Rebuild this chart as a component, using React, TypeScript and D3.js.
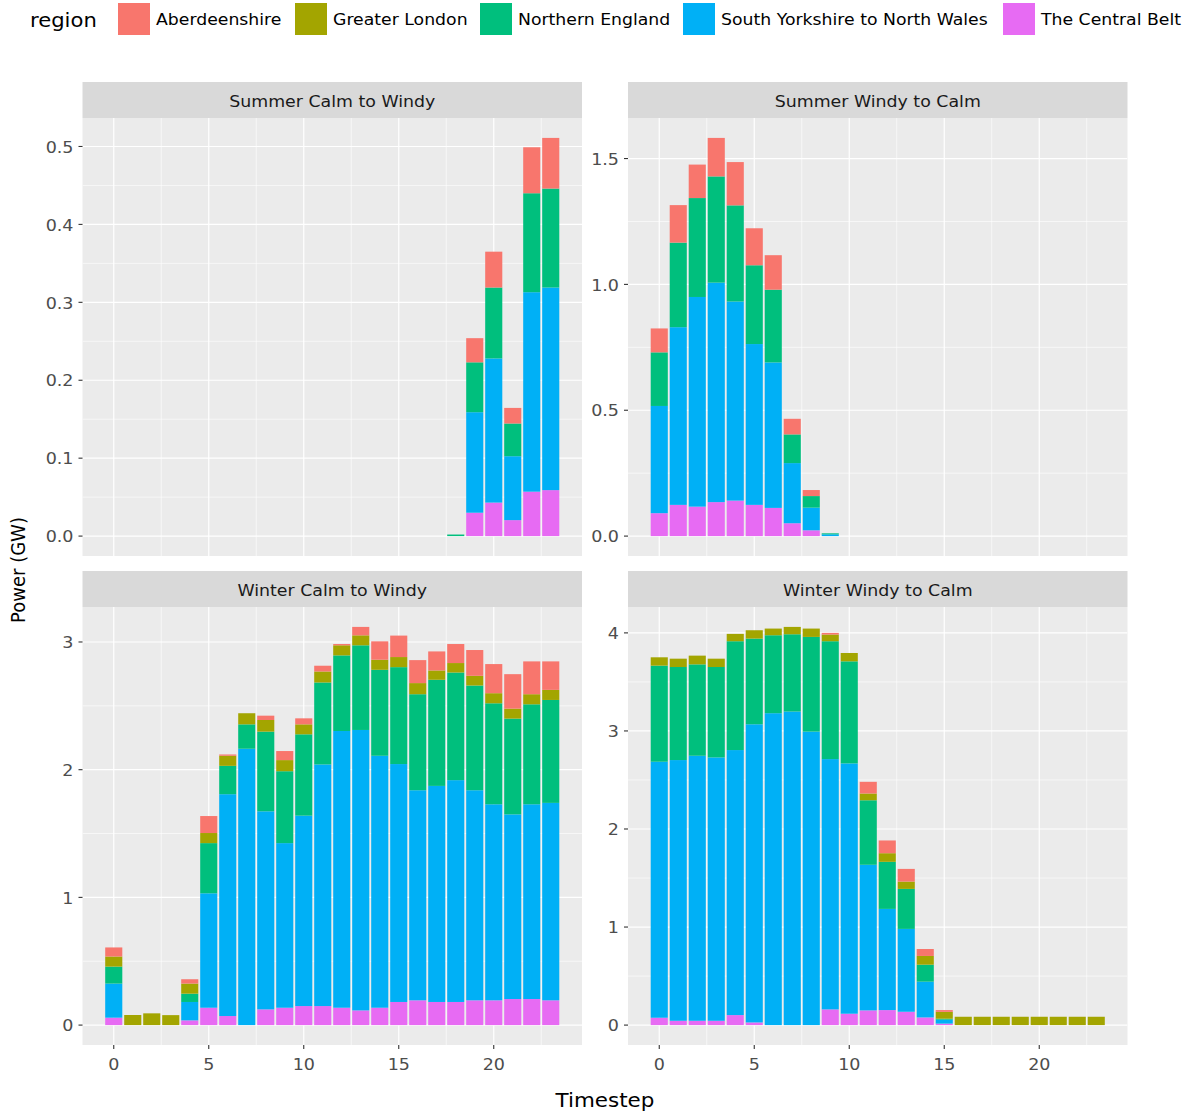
import React from "react";
import * as d3 from "d3";

const regions = [
  "Aberdeenshire",
  "Greater London",
  "Northern England",
  "South Yorkshire to North Wales",
  "The Central Belt",
];
const regionColors = ["#F8766D", "#A3A500", "#00BF7D", "#00B0F6", "#E76BF3"];
const timesteps = d3.range(0, 24);
const xTicks = [0, 5, 10, 15, 20];
const panelTitles = [
  "Summer Calm to Windy",
  "Summer Windy to Calm",
  "Winter Calm to Windy",
  "Winter Windy to Calm",
];
const yTickLists = [
  [0, 0.1, 0.2, 0.3, 0.4, 0.5],
  [0, 0.5, 1.0, 1.5],
  [0, 1, 2, 3],
  [0, 1, 2, 3, 4],
];
const yTickFormats = [".1f", ".1f", "d", "d"];

// Summer Calm to Windy
const scwAberdeenshire = [0,0,0,0,0,0,0,0,0,0,0,0,0,0,0,0,0,0,0,0.031,0.046,0.020,0.059,0.065];
const scwGreaterLondon = [0,0,0,0,0,0,0,0,0,0,0,0,0,0,0,0,0,0,0,0,0,0,0,0];
const scwNorthernEngland = [0,0,0,0,0,0,0,0,0,0,0,0,0,0,0,0,0,0,0.002,0.064,0.091,0.042,0.127,0.127];
const scwSouthYorkshire = [0,0,0,0,0,0,0,0,0,0,0,0,0,0,0,0,0,0,0,0.129,0.185,0.082,0.256,0.260];
const scwCentralBelt = [0,0,0,0,0,0,0,0,0,0,0,0,0,0,0,0,0,0,0,0.030,0.043,0.0205,0.057,0.059];

// Summer Windy to Calm
const swcAberdeenshire = [0.095,0.149,0.133,0.153,0.172,0.147,0.137,0.062,0.024,0,0,0,0,0,0,0,0,0,0,0,0,0,0,0];
const swcGreaterLondon = [0,0,0,0,0,0,0,0,0,0,0,0,0,0,0,0,0,0,0,0,0,0,0,0];
const swcNorthernEngland = [0.213,0.336,0.393,0.422,0.382,0.313,0.289,0.114,0.046,0.004,0,0,0,0,0,0,0,0,0,0,0,0,0,0];
const swcSouthYorkshire = [0.426,0.706,0.833,0.872,0.791,0.639,0.578,0.239,0.090,0.007,0,0,0,0,0,0,0,0,0,0,0,0,0,0];
const swcCentralBelt = [0.091,0.124,0.117,0.135,0.141,0.124,0.112,0.051,0.023,0,0,0,0,0,0,0,0,0,0,0,0,0,0,0];

// Winter Calm to Windy
const wcwAberdeenshire = [0.071,0,0,0,0.034,0.133,0.010,0,0.034,0.071,0.047,0.045,0.010,0.066,0.144,0.168,0.180,0.149,0.149,0.202,0.228,0.270,0.257,0.223];
const wcwGreaterLondon = [0.079,0.079,0.092,0.078,0.079,0.079,0.079,0.087,0.091,0.087,0.078,0.086,0.079,0.078,0.079,0.079,0.087,0.073,0.074,0.076,0.079,0.078,0.079,0.079];
const wcwNorthernEngland = [0.133,0,0,0,0.065,0.393,0.222,0.191,0.624,0.563,0.637,0.642,0.592,0.663,0.673,0.759,0.752,0.831,0.843,0.820,0.791,0.750,0.783,0.806];
const wcwSouthYorkshire = [0.267,0,0,0,0.144,0.896,1.737,2.164,1.551,1.289,1.491,1.892,2.167,2.196,1.973,1.863,1.645,1.692,1.737,1.645,1.535,1.446,1.525,1.546];
const wcwCentralBelt = [0.058,0,0,0,0.037,0.136,0.071,0,0.123,0.136,0.149,0.149,0.136,0.115,0.136,0.181,0.194,0.181,0.181,0.194,0.194,0.204,0.204,0.194];

// Winter Windy to Calm
const wwcAberdeenshire = [0,0,0,0,0,0,0,0,0,0.017,0,0.119,0.130,0.129,0.071,0.018,0,0,0,0,0,0,0,0];
const wwcGreaterLondon = [0.085,0.085,0.089,0.085,0.075,0.085,0.068,0.075,0.085,0.068,0.085,0.069,0.088,0.075,0.089,0.070,0.085,0.085,0.085,0.085,0.085,0.085,0.085,0.085];
const wwcNorthernEngland = [0.980,0.949,0.932,0.922,1.110,0.874,0.795,0.788,0.966,1.202,1.041,0.658,0.480,0.408,0.173,0.010,0,0,0,0,0,0,0,0];
const wwcSouthYorkshire = [2.611,2.659,2.703,2.686,2.703,3.041,3.181,3.198,2.993,2.553,2.553,1.485,1.032,0.845,0.365,0.040,0,0,0,0,0,0,0,0];
const wwcCentralBelt = [0.075,0.044,0.044,0.044,0.102,0.027,0,0,0,0.160,0.116,0.150,0.153,0.136,0.078,0.015,0,0,0,0,0,0,0,0];

const panelSeries = [
  [scwAberdeenshire, scwGreaterLondon, scwNorthernEngland, scwSouthYorkshire, scwCentralBelt],
  [swcAberdeenshire, swcGreaterLondon, swcNorthernEngland, swcSouthYorkshire, swcCentralBelt],
  [wcwAberdeenshire, wcwGreaterLondon, wcwNorthernEngland, wcwSouthYorkshire, wcwCentralBelt],
  [wwcAberdeenshire, wwcGreaterLondon, wwcNorthernEngland, wwcSouthYorkshire, wwcCentralBelt],
];

const FONT = "'DejaVu Sans', sans-serif";
const W = 1187;
const H = 1117;
const panelW = 499.5;
const panelH = 438;
const stripH = 36;
const colX = [82.5, 628];
const rowTop = [82, 571]; // strip top
const SX = 1.1; // horizontal stretch of the source image's text

function T({
  x,
  y,
  size,
  anchor = "start",
  fill = "#000",
  children,
}: {
  x: number;
  y: number;
  size: number;
  anchor?: string;
  fill?: string;
  children: any;
}) {
  return (
    <text
      transform={`translate(${x},${y}) scale(${SX},1)`}
      textAnchor={anchor}
      dominantBaseline="central"
      fontFamily={FONT}
      fontSize={size}
      fill={fill}
    >
      {children}
    </text>
  );
}

function Panel({ idx }: { idx: number }) {
  const col = idx % 2;
  const row = Math.floor(idx / 2);
  const x0 = colX[col];
  const stripTop = rowTop[row];
  const y0 = stripTop + stripH;
  const series = panelSeries[idx];

  const rows = timesteps.map((t, i) => {
    const o: any = { t };
    regions.forEach((r, k) => (o[r] = series[k][i]));
    return o;
  });
  const stackKeys = regions.slice().reverse();
  const stacked = d3.stack().keys(stackKeys)(rows);
  const maxY = d3.max(rows, (r: any) => d3.sum(regions, (k) => r[k])) as number;

  const barW = 0.9;
  const xMin = -barW / 2;
  const xMax = 23 + barW / 2;
  const xPad = (xMax - xMin) * 0.05;
  const x = d3.scaleLinear().domain([xMin - xPad, xMax + xPad]).range([x0, x0 + panelW]);
  const y = d3.scaleLinear().domain([-maxY * 0.05, maxY * 1.05]).range([y0 + panelH, y0]);

  const yTicks = yTickLists[idx];
  const fmt = d3.format(yTickFormats[idx]);
  const yMinor = yTicks.slice(0, -1).map((v, i) => (v + yTicks[i + 1]) / 2);
  const lastStep = yTicks[1] - yTicks[0];
  const extraMinor = yTicks[yTicks.length - 1] + lastStep / 2;
  if (extraMinor < y.domain()[1]) yMinor.push(extraMinor);
  const xMinor = [2.5, 7.5, 12.5, 17.5, 22.5];
  const clipId = `clip${idx}`;

  return (
    <g>
      <defs>
        <clipPath id={clipId}>
          <rect x={x0} y={y0} width={panelW} height={panelH} />
        </clipPath>
      </defs>
      <rect x={x0} y={stripTop} width={panelW} height={stripH} fill="#D9D9D9" />
      <T x={x0 + panelW / 2} y={stripTop + stripH / 2 + 1.5} size={15.8} anchor="middle" fill="#1A1A1A">
        {panelTitles[idx]}
      </T>
      <rect x={x0} y={y0} width={panelW} height={panelH} fill="#EBEBEB" />
      <g clipPath={`url(#${clipId})`}>
        {yMinor.map((v) => (
          <line key={"ym" + v} x1={x0} x2={x0 + panelW} y1={y(v)} y2={y(v)} stroke="#fff" strokeWidth={0.6} />
        ))}
        {xMinor.map((v) => (
          <line key={"xm" + v} x1={x(v)} x2={x(v)} y1={y0} y2={y0 + panelH} stroke="#fff" strokeWidth={0.6} />
        ))}
        {yTicks.map((v) => (
          <line key={"y" + v} x1={x0} x2={x0 + panelW} y1={y(v)} y2={y(v)} stroke="#fff" strokeWidth={1.2} />
        ))}
        {xTicks.map((v) => (
          <line key={"x" + v} x1={x(v)} x2={x(v)} y1={y0} y2={y0 + panelH} stroke="#fff" strokeWidth={1.2} />
        ))}
        {stacked.map((layer: any) => {
          const color = regionColors[regions.indexOf(layer.key)];
          return (
            <g key={layer.key} fill={color}>
              {layer.map((d: any, i: number) => {
                const h = y(d[0]) - y(d[1]);
                if (h <= 0) return null;
                return (
                  <rect
                    key={i}
                    x={x(d.data.t - barW / 2)}
                    width={x(barW) - x(0)}
                    y={y(d[1])}
                    height={h}
                  />
                );
              })}
            </g>
          );
        })}
      </g>
      {yTicks.map((v) => (
        <g key={"yt" + v}>
          <line x1={x0 - 4} x2={x0} y1={y(v)} y2={y(v)} stroke="#333" strokeWidth={1.1} />
          <T x={x0 - 9} y={y(v) + 0.5} size={15.9} anchor="end" fill="#4D4D4D">
            {fmt(v)}
          </T>
        </g>
      ))}
      {row === 1 &&
        xTicks.map((v) => (
          <g key={"xt" + v}>
            <line x1={x(v)} x2={x(v)} y1={y0 + panelH} y2={y0 + panelH + 4} stroke="#333" strokeWidth={1.1} />
            <T x={x(v)} y={y0 + panelH + 19} size={15.9} anchor="middle" fill="#4D4D4D">
              {v}
            </T>
          </g>
        ))}
    </g>
  );
}

function Legend() {
  const keyX = [118, 295, 480, 683, 1003];
  return (
    <g>
      <T x={30} y={20} size={19.2}>
        region
      </T>
      {regions.map((r, i) => (
        <g key={r}>
          <rect x={keyX[i]} y={3} width={32} height={32} fill={regionColors[i]} />
          <T x={keyX[i] + 38} y={20} size={15.7}>
            {r}
          </T>
        </g>
      ))}
    </g>
  );
}

export default function App() {
  return (
    <svg
      width={W}
      height={H}
      viewBox={`0 0 ${W} ${H}`}
      style={{ position: "absolute", left: 0, top: 0, background: "#fff" }}
    >
      <rect width={W} height={H} fill="#fff" />
      <Legend />
      {[0, 1, 2, 3].map((i) => (
        <Panel key={i} idx={i} />
      ))}
      <T x={605} y={1100} size={19.5} anchor="middle">
        Timestep
      </T>
      <text
        transform={`translate(18,570) scale(${SX},1) rotate(-90)`}
        textAnchor="middle"
        dominantBaseline="central"
        fontFamily={FONT}
        fontSize={18}
        fill="#000"
      >
        Power (GW)
      </text>
    </svg>
  );
}
